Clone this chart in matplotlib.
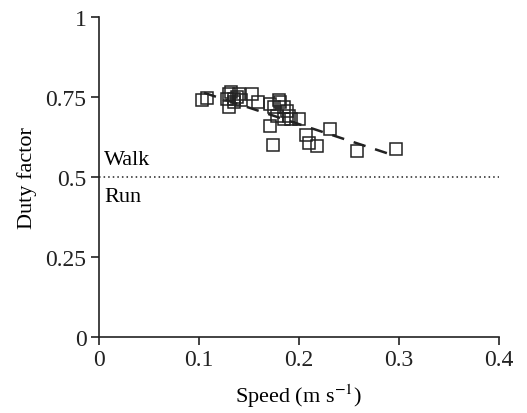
import matplotlib
matplotlib.use("Agg")
import matplotlib.pyplot as plt

plt.rcParams["font.family"] = ["Liberation Serif", "DejaVu Serif"]
plt.rcParams["mathtext.fontset"] = "stix"

speed = [0.103, 0.108, 0.128, 0.130, 0.132, 0.135, 0.135, 0.138, 0.140, 0.142,
         0.130, 0.153, 0.159, 0.171, 0.175, 0.180, 0.181, 0.185, 0.188, 0.190,
         0.178, 0.185, 0.192, 0.171, 0.174, 0.200, 0.207, 0.210, 0.218, 0.231,
         0.258, 0.297]
duty = [0.740, 0.747, 0.745, 0.760, 0.765, 0.745, 0.735, 0.750, 0.760, 0.740,
        0.720, 0.760, 0.734, 0.728, 0.720, 0.740, 0.734, 0.720, 0.705, 0.690,
        0.690, 0.680, 0.680, 0.660, 0.600, 0.680, 0.630, 0.605, 0.597, 0.650,
        0.580, 0.587]

fit_x = [0.105, 0.297]
fit_y = [0.763, 0.565]

xticks = [0, 0.1, 0.2, 0.3, 0.4]
xlabels = ["0", "0.1", "0.2", "0.3", "0.4"]
yticks = [0, 0.25, 0.5, 0.75, 1]
ylabels = ["0", "0.25", "0.5", "0.75", "1"]


def grafico():
    fig = plt.figure(figsize=(5.27, 4.14), dpi=100)
    ax = fig.add_axes([0.188, 0.1836, 0.759, 0.773])

    ax.plot(speed, duty, "s", markersize=8.5, markerfacecolor="none",
            markeredgecolor="#222222", markeredgewidth=1.1)
    ax.plot(fit_x, fit_y, color="#222222", linewidth=1.8,
            linestyle=(0, (5, 4)))
    ax.axhline(0.5, color="#222222", linewidth=1.1, linestyle=(0, (1, 2)))

    ax.text(0.005, 0.556, "Walk", fontsize=16, va="center", ha="left")
    ax.text(0.005, 0.4375, "Run", fontsize=16, va="center", ha="left")

    ax.set_xlim(0, 0.4)
    ax.set_ylim(0, 1)
    ax.set_xticks(xticks)
    ax.set_xticklabels(xlabels)
    ax.set_yticks(yticks)
    ax.set_yticklabels(ylabels)
    ax.tick_params(direction="out", length=6, width=1.2, labelsize=17,
                   colors="#222222", pad=3)

    for s in ["top", "right"]:
        ax.spines[s].set_visible(False)
    for s in ["left", "bottom"]:
        ax.spines[s].set_linewidth(1.2)
        ax.spines[s].set_color("#222222")

    ax.set_xlabel("Speed (m s$^{\u22121}$)", fontsize=16, labelpad=8)
    ax.set_ylabel("Duty factor", fontsize=16, labelpad=6)

    fig.savefig("out.png", dpi=100)


def main():
    grafico()


if __name__ == "__main__":
    main()
